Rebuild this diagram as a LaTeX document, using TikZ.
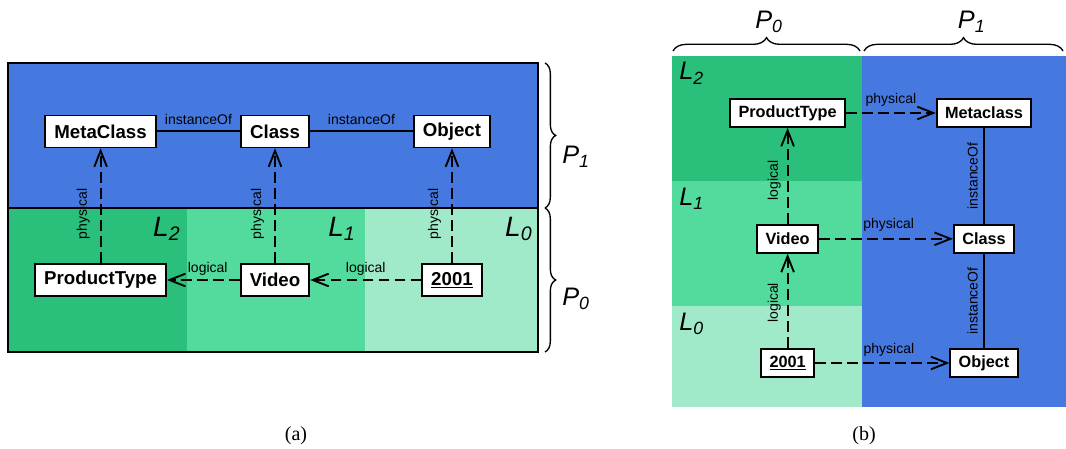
\documentclass[tikz,border=0pt]{standalone}
\usepackage{fontspec}
\setmainfont{Liberation Sans}
\newfontfamily\capfont{Liberation Serif}
\usetikzlibrary{arrows.meta,decorations.pathreplacing}
\definecolor{physblue}{HTML}{4679E0}
\definecolor{levtwo}{HTML}{2BBF7C}
\definecolor{levone}{HTML}{53DB9D}
\definecolor{levzero}{HTML}{A0E9C9}

\begin{document}
\begin{tikzpicture}[x=0.75pt,y=-0.75pt,
  box/.style={draw,fill=white,line width=1.3pt,inner xsep=6.8pt,inner ysep=0pt,
    minimum height=24pt,font=\bfseries\fontsize{14}{16}\selectfont},
  boxb/.style={box,inner xsep=6.3pt,minimum height=21pt,
    font=\bfseries\fontsize{12.2}{14}\selectfont},
  link/.style={line width=1.4pt,dash pattern=on 8pt off 4pt,
    -{Straight Barb[length=12pt,width=9.5pt,line width=1.4pt]}},
  inst/.style={line width=1.4pt},
  lab/.style={font=\fontsize{10.5}{12}\selectfont,inner sep=1pt},
  levA/.style={anchor=base east,inner sep=0pt,font=\itshape\fontsize{21}{24}\selectfont},
  levB/.style={anchor=base west,inner sep=0pt,font=\itshape\fontsize{19}{22}\selectfont},
  brc/.style={line width=1pt,decorate,decoration={brace,amplitude=#1}}]

  \useasboundingbox (0,0) rectangle (1066,449);

  % (a)
  \fill[physblue] (8,63) rectangle (538,208);
  \fill[levtwo] (8,208) rectangle (187,352);
  \fill[levone] (187,208) rectangle (365,352);
  \fill[levzero] (365,208) rectangle (538,352);
  \draw[line width=1.3pt] (8,63) rectangle (538,352);
  \draw[line width=1.3pt] (8,208) -- (538,208);

  \node[levA] (ltwoA) at (180.6,236.7) {L\textsubscript{2}};
  \node[levA] (loneA) at (355.8,236.7) {L\textsubscript{1}};
  \node[levA] (lzeroA) at (532.6,236.7) {L\textsubscript{0}};

  \node[box] (metaA) at (100.6,131.4) {MetaClass};
  \node[box] (classA) at (275,131.4) {Class};
  \node[box] (objA) at (452,131.4) {Object};
  \node[box] (ptA) at (100.6,280) {ProductType};
  \node[box] (videoA) at (275,280) {Video};
  \node[box] (yearA) at (452,280) {\underline{2001}};

  \draw[inst] (metaA) -- node[lab,above=3.5pt] {instanceOf} (classA);
  \draw[inst] (classA) -- node[lab,above=3.5pt] {instanceOf} (objA);
  \draw[link] (ptA) -- node[lab,sloped,above=6.5pt,pos=0.43] {physical} (metaA);
  \draw[link] (videoA) -- node[lab,sloped,above=6.5pt,pos=0.43] {physical} (classA);
  \draw[link] (yearA) -- node[lab,sloped,above=6.5pt,pos=0.43] {physical} (objA);
  \draw[link] (videoA) -- node[lab,above=1.5pt,pos=0.44] {logical} (ptA);
  \draw[link] (yearA) -- node[lab,above=1.5pt] {logical} (videoA);

  \draw[brc=8pt] (545,63) -- (545,208);
  \draw[brc=8pt] (545,208) -- (545,352);
  \node[levB] (poneA) at (562,163) {P\textsubscript{1}};
  \node[levB] (pzeroA) at (562,305) {P\textsubscript{0}};

  % (b)
  \fill[levtwo] (672,56) rectangle (862,181);
  \fill[levone] (672,181) rectangle (862,306);
  \fill[levzero] (672,306) rectangle (862,407);
  \fill[physblue] (862,56) rectangle (1066,407);

  \node[levB] (ltwoB) at (679,80) {L\textsubscript{2}};
  \node[levB] (loneB) at (679,205) {L\textsubscript{1}};
  \node[levB] (lzeroB) at (679,330) {L\textsubscript{0}};

  \node[boxb] (ptB) at (787.6,113) {ProductType};
  \node[boxb] (metaB) at (984,113) {Metaclass};
  \node[boxb] (videoB) at (787.6,238.8) {Video};
  \node[boxb] (classB) at (984,238.8) {Class};
  \node[boxb] (yearB) at (787.6,363) {\underline{2001}};
  \node[boxb] (objB) at (984,363) {Object};

  \draw[link] (ptB) -- node[lab,above=3.5pt] {physical} (metaB);
  \draw[link] (videoB) -- node[lab,above=3.5pt,pos=0.52] {physical} (classB);
  \draw[link] (yearB) -- node[lab,above=3.5pt,pos=0.55] {physical} (objB);
  \draw[link] (videoB) -- node[lab,sloped,above=3.5pt,pos=0.45] {logical} (ptB);
  \draw[link] (yearB) -- node[lab,sloped,above=3.5pt,pos=0.48] {logical} (videoB);
  \draw[inst] (classB) -- node[lab,sloped,above=3pt] {instanceOf} (metaB);
  \draw[inst] (objB) -- node[lab,sloped,above=3pt] {instanceOf} (classB);

  \draw[brc=10pt] (673,51) -- (860,51);
  \draw[brc=10pt] (864,51) -- (1063,51);
  \node[levB] (pzeroB) at (755,28.3) {P\textsubscript{0}};
  \node[levB] (poneB) at (957.7,28.3) {P\textsubscript{1}};

  \node[font=\capfont\fontsize{15}{17}\selectfont] (capA) at (296,436) {(a)};
  \node[font=\capfont\fontsize{15}{17}\selectfont] (capB) at (864,436) {(b)};

\end{tikzpicture}
\end{document}
